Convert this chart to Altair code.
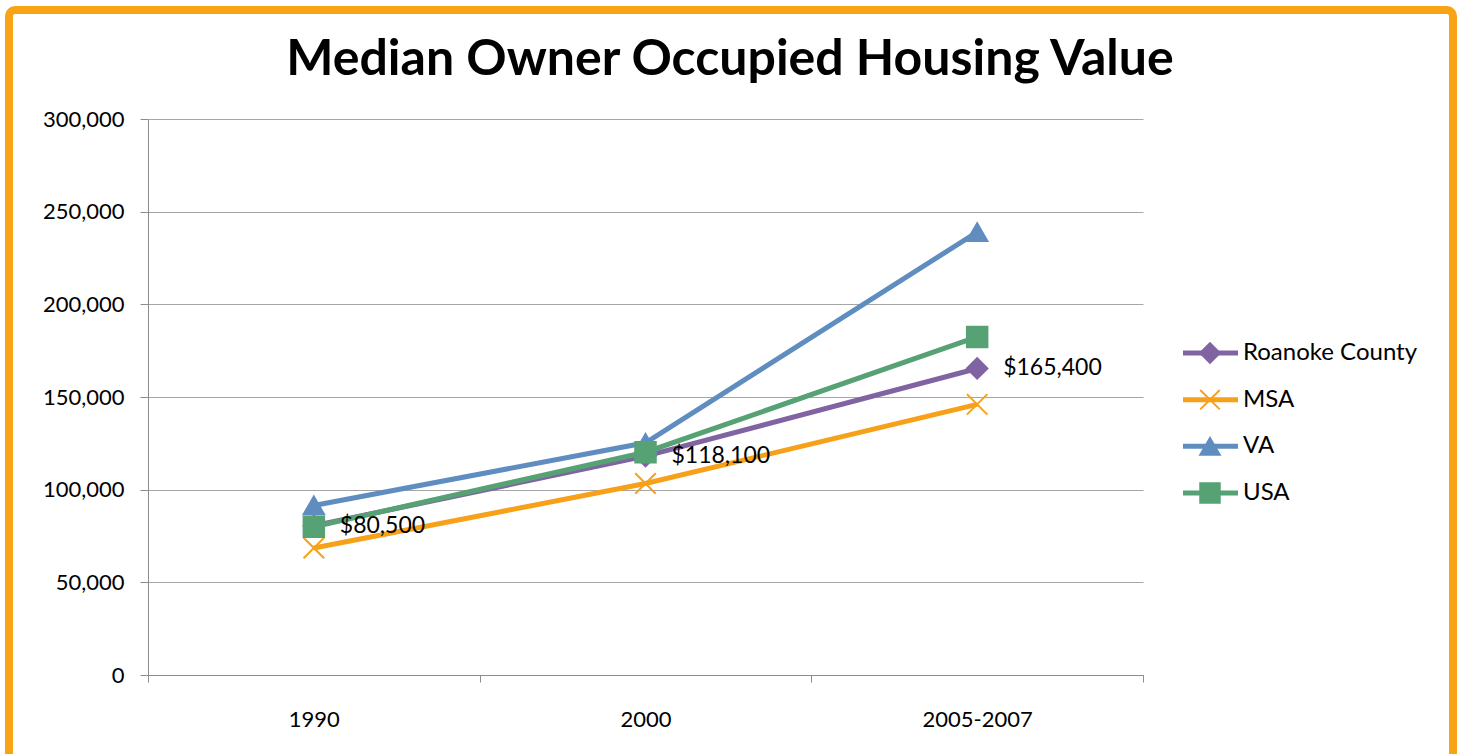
import altair as alt
import pandas as pd

years = ["1990", "2000", "2005-2007"]
series = ["Roanoke County", "MSA", "VA", "USA"]
roanoke = [80500, 118100, 165400]
msa = [68500, 103300, 146000]
va = [91500, 125300, 239000]
usa = [80000, 120200, 182400]
colors = ["#8064A2", "#F7A11A", "#5F8DC0", "#57A274"]
shapes = ["diamond", "M-1,-1L1,1M-1,1L1,-1", "triangle-up", "square"]
label_text = ["$80,500", "$118,100", "$165,400"]
y_ticks = [0, 50000, 100000, 150000, 200000, 250000, 300000]
title_text = "Median Owner Occupied Housing Value"

FONT = "Lato"

rows = []
for s, vals in zip(series, [roanoke, msa, va, usa]):
    for yr, v in zip(years, vals):
        rows.append({"series": s, "year": yr, "value": v})
df = pd.DataFrame(rows)
labels_df = pd.DataFrame({"year": years, "value": roanoke, "label": label_text})
legend_df = pd.DataFrame({"series": series})

x_scale = alt.Scale(type="band", domain=years, paddingInner=0, paddingOuter=0)
y_scale = alt.Scale(domain=[0, 300000], nice=False)
color_scale = alt.Scale(domain=series, range=colors)
shape_scale = alt.Scale(domain=series, range=shapes)

x_enc = alt.X(
    "year:N",
    sort=years,
    scale=x_scale,
    axis=alt.Axis(
        title=None, labelAngle=0, tickBand="extent", tickSize=7, grid=False,
        domainColor="#8C8C8C", tickColor="#8C8C8C", labelPadding=27,
        labelFontSize=22, labelFont=FONT, labelColor="#000000",
    ),
)
y_enc = alt.Y(
    "value:Q",
    scale=y_scale,
    axis=alt.Axis(
        title=None, values=y_ticks, format=",.0f", tickSize=8, labelPadding=16,
        gridColor="#A6A6A6", domainColor="#8C8C8C", tickColor="#8C8C8C",
        labelFontSize=22, labelFont=FONT, labelColor="#000000",
    ),
)

lines = alt.Chart(df).mark_line(strokeWidth=5).encode(
    x=x_enc,
    y=y_enc,
    color=alt.Color("series:N", sort=series, scale=color_scale, legend=None),
    detail="series:N",
)

points = alt.Chart(df).mark_point(filled=True, size=420, opacity=1, strokeWidth=2).encode(
    x=x_enc,
    y=y_enc,
    fill=alt.Fill("series:N", scale=color_scale, legend=None),
    stroke=alt.Stroke("series:N", scale=color_scale, legend=None),
    shape=alt.Shape("series:N", scale=shape_scale, legend=None),
)

labels = alt.Chart(labels_df).mark_text(
    align="left", baseline="middle", dx=26, fontSize=23, font=FONT, color="#000000"
).encode(x=x_enc, y=y_enc, text="label:N")

main = alt.layer(lines, points, labels)

# legend built from the series list
leg_y = alt.Y("series:N", sort=series,
              scale=alt.Scale(type="point", domain=series, range=[234, 374], padding=0),
              axis=None)
leg_line = alt.Chart(legend_df).mark_rule(strokeWidth=5).encode(
    x=alt.value(1035), x2=alt.value(1090), y=leg_y,
    color=alt.Color("series:N", scale=color_scale, legend=None),
)
leg_pt = alt.Chart(legend_df).mark_point(filled=True, size=380, opacity=1, strokeWidth=2).encode(
    x=alt.value(1062), y=leg_y,
    fill=alt.Fill("series:N", scale=color_scale, legend=None),
    stroke=alt.Stroke("series:N", scale=color_scale, legend=None),
    shape=alt.Shape("series:N", scale=shape_scale, legend=None),
)
leg_txt = alt.Chart(legend_df).mark_text(
    align="left", baseline="middle", fontSize=24, font=FONT, color="#000000"
).encode(x=alt.value(1095), y=leg_y, text="series:N")
legend = alt.layer(leg_line, leg_pt, leg_txt)

title = alt.Chart(pd.DataFrame({"t": [title_text]})).mark_text(
    align="center", baseline="middle", fontSize=50, font=FONT, fontWeight="bold",
    color="#000000"
).encode(x=alt.value(582), y=alt.value(-59), text="t:N")

frame = alt.Chart(pd.DataFrame({"a": [0]})).mark_rect(
    fill="transparent", stroke="#F7A517", strokeWidth=8, cornerRadius=6
).encode(x=alt.value(-139), x2=alt.value(1305), y=alt.value(-109), y2=alt.value(720))

chart = alt.layer(frame, title, main, legend).resolve_scale(
    y="independent"
).properties(
    width=995, height=556,
    background="white",
    autosize=alt.AutoSizeParams(type="none"),
    padding={"left": 148, "top": 119, "right": 319, "bottom": 79},
).configure_view(strokeWidth=0)

chart.save("out.html", embed_options={"renderer": "svg", "actions": False})
